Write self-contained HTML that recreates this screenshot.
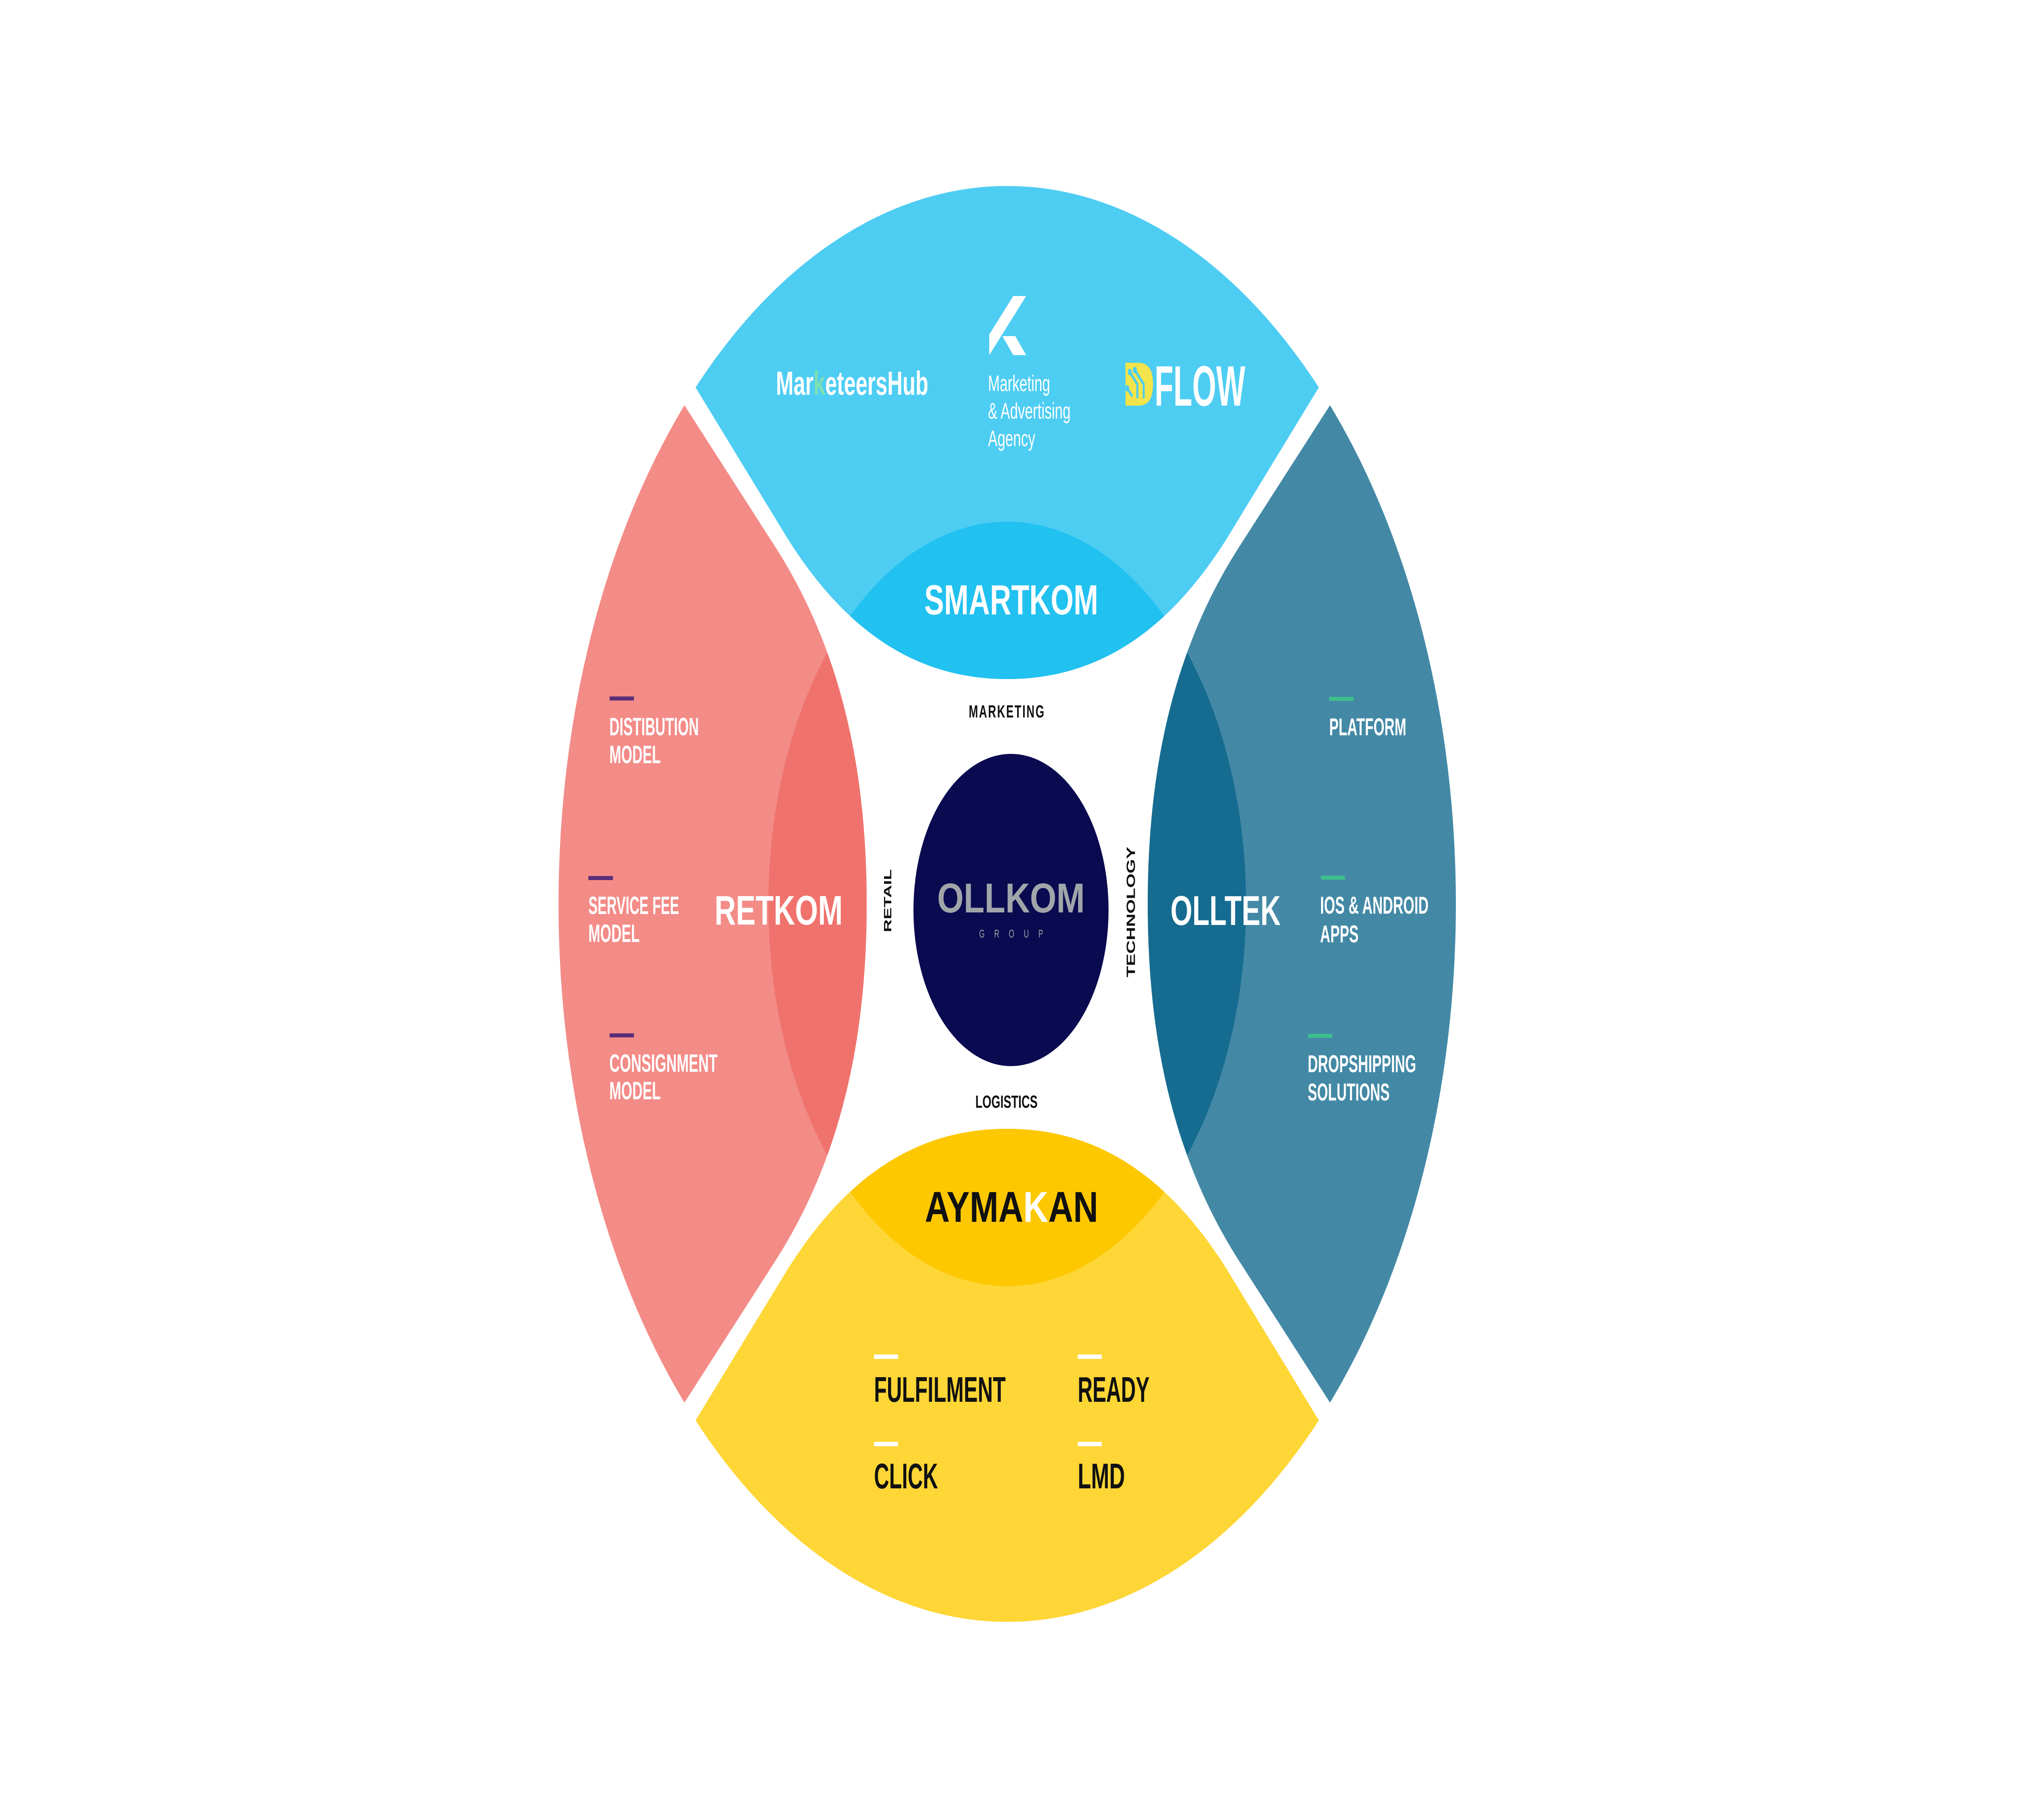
<!DOCTYPE html>
<html><head><meta charset="utf-8"><style>
html,body{margin:0;padding:0;background:#fff;overflow:hidden;width:100%;height:100%;}
svg{display:block;position:fixed;left:0;top:0;width:100vw;height:100vh;}
text{font-family:"Liberation Sans",sans-serif;}
</style></head><body>
<svg viewBox="0 0 8000 4500" preserveAspectRatio="none" xmlns="http://www.w3.org/2000/svg">
<defs>
<path id="petal" d="M-1233,-1277 A1775,1775 0 0 1 1233,-1277 L889,-924 C630,-655 330,-556 0,-556 C-330,-556 -630,-655 -889,-924 Z"/>
<clipPath id="inner"><circle cx="0" cy="0" r="945"/></clipPath>
</defs>
<rect width="8000" height="4500" fill="#fff"/>
<g transform="translate(3985,2235)">
  <use href="#petal" fill="#4ECDF3"/>
  <use href="#petal" fill="#4389A6" transform="rotate(90)"/>
  <use href="#petal" fill="#FED636" transform="rotate(180)"/>
  <use href="#petal" fill="#F38B87" transform="rotate(270)"/>
  <g clip-path="url(#inner)">
    <use href="#petal" fill="#21C1F0"/>
    <use href="#petal" fill="#166C90" transform="rotate(90)"/>
    <use href="#petal" fill="#FDC800" transform="rotate(180)"/>
    <use href="#petal" fill="#F0726D" transform="rotate(270)"/>
  </g>
</g>
<circle cx="4000" cy="2250" r="386" fill="#0A0A50"/>

<!-- Top -->
<text x="3070" y="976" font-size="83" font-weight="bold" fill="#fff" textLength="603" lengthAdjust="spacingAndGlyphs">Mar<tspan fill="#7FE0B0">k</tspan>eteersHub</text>
<polygon points="4009,732 4060,732 3914,878 3914,827" fill="#fff"/>
<polygon points="3966,831 4017,831 4060,878 4009,878" fill="#fff"/>
<text x="3909" y="967" font-size="56" fill="#fff">Marketing</text>
<text x="3909" y="1035" font-size="56" fill="#fff">&amp; Advertising</text>
<text x="3909" y="1103" font-size="56" fill="#fff">Agency</text>
<path d="M4453,897 L4505,897 Q4562,897 4562,950 Q4562,1003 4505,1003 L4453,1003 Z" fill="#F2E44A"/>
<g stroke="#4ECDF3" stroke-width="8" fill="none"><path d="M4470,920 L4500,950 L4500,985"/><path d="M4490,915 L4525,950 L4525,985"/><path d="M4460,960 L4480,980"/></g>
<g fill="#4ECDF3"><circle cx="4470" cy="920" r="8"/><circle cx="4490" cy="915" r="8"/><circle cx="4460" cy="960" r="8"/></g>
<text x="4568" y="1003" font-size="141" font-weight="bold" fill="#fff" textLength="359" lengthAdjust="spacingAndGlyphs">FLOW</text>
<text x="3657" y="1519" font-size="104" font-weight="bold" fill="#fff" textLength="688" lengthAdjust="spacingAndGlyphs">SMARTKOM</text>
<text x="3984" y="1774" font-size="44" font-weight="bold" fill="#111" text-anchor="middle" letter-spacing="4">MARKETING</text>

<!-- Center -->
<text x="3708" y="2256" font-size="103" font-weight="bold" fill="#A0A5AA" textLength="584" lengthAdjust="spacingAndGlyphs">OLLKOM</text>
<text x="3874" y="2318" font-size="28" fill="#A0A5AA" textLength="253" lengthAdjust="spacing">GROUP</text>
<text x="3982" y="2739" font-size="44" font-weight="bold" fill="#111" text-anchor="middle" textLength="246" lengthAdjust="spacingAndGlyphs">LOGISTICS</text>
<text transform="translate(3526,2227) rotate(-90)" font-size="42" font-weight="bold" fill="#111" text-anchor="middle" textLength="156" lengthAdjust="spacingAndGlyphs">RETAIL</text>
<text transform="translate(4490,2255) rotate(-90)" font-size="47" font-weight="bold" fill="#111" text-anchor="middle" textLength="323" lengthAdjust="spacingAndGlyphs">TECHNOLOGY</text>

<!-- Left -->
<text x="2827" y="2286" font-size="102" font-weight="bold" fill="#fff" textLength="507" lengthAdjust="spacingAndGlyphs">RETKOM</text>
<g fill="#5B2E7A"><rect x="2412" y="1722" width="96" height="10"/><rect x="2328" y="2166" width="97" height="10"/><rect x="2412" y="2555" width="96" height="10"/></g>
<g font-size="62" font-weight="bold" fill="#fff">
<text x="2411" y="1818" textLength="354" lengthAdjust="spacingAndGlyphs">DISTIBUTION</text>
<text x="2411" y="1887" textLength="203" lengthAdjust="spacingAndGlyphs">MODEL</text>
<text x="2328" y="2260" textLength="359" lengthAdjust="spacingAndGlyphs">SERVICE FEE</text>
<text x="2328" y="2329" textLength="203" lengthAdjust="spacingAndGlyphs">MODEL</text>
<text x="2411" y="2650" textLength="428" lengthAdjust="spacingAndGlyphs">CONSIGNMENT</text>
<text x="2411" y="2718" textLength="203" lengthAdjust="spacingAndGlyphs">MODEL</text>
</g>

<!-- Right -->
<text x="4631" y="2287" font-size="103" font-weight="bold" fill="#fff" textLength="436" lengthAdjust="spacingAndGlyphs">OLLTEK</text>
<g fill="#3DBE8B"><rect x="5259" y="1723" width="96" height="10"/><rect x="5226" y="2165" width="95" height="10"/><rect x="5176" y="2556" width="95" height="10"/></g>
<g font-size="60" font-weight="bold" fill="#fff">
<text x="5259" y="1818" textLength="305" lengthAdjust="spacingAndGlyphs">PLATFORM</text>
<text x="5223" y="2259" textLength="429" lengthAdjust="spacingAndGlyphs">IOS &amp; ANDROID</text>
<text x="5223" y="2330" textLength="152" lengthAdjust="spacingAndGlyphs">APPS</text>
<text x="5174" y="2651" textLength="429" lengthAdjust="spacingAndGlyphs">DROPSHIPPING</text>
<text x="5174" y="2721" textLength="324" lengthAdjust="spacingAndGlyphs">SOLUTIONS</text>
</g>

<!-- Bottom -->
<text x="3659" y="3021" font-size="107" font-weight="bold" fill="#111" textLength="686" lengthAdjust="spacingAndGlyphs">AYMA<tspan fill="#fff">K</tspan>AN</text>
<g fill="#fff"><rect x="3458" y="3349" width="95" height="11"/><rect x="4264" y="3349" width="95" height="11"/><rect x="3458" y="3565" width="95" height="11"/><rect x="4264" y="3565" width="95" height="11"/></g>
<g font-size="88" font-weight="bold" fill="#111">
<text x="3458" y="3466" textLength="521" lengthAdjust="spacingAndGlyphs">FULFILMENT</text>
<text x="4264" y="3466" textLength="284" lengthAdjust="spacingAndGlyphs">READY</text>
<text x="3458" y="3680" textLength="253" lengthAdjust="spacingAndGlyphs">CLICK</text>
<text x="4264" y="3680" textLength="187" lengthAdjust="spacingAndGlyphs">LMD</text>
</g>
</svg>
</body></html>
